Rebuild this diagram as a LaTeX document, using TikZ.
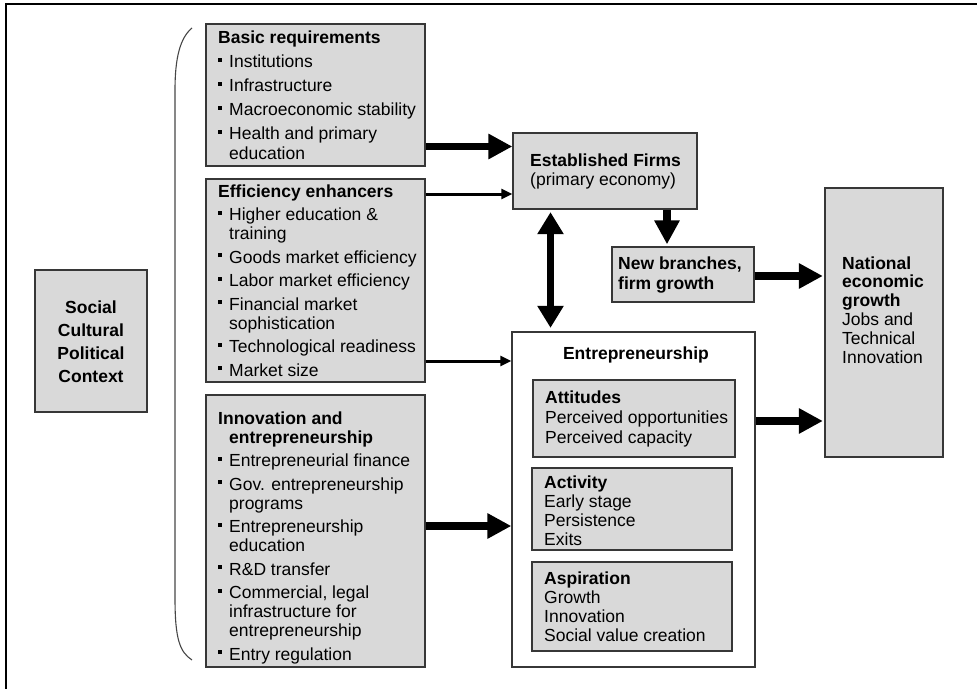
\documentclass[tikz,border=0pt]{standalone}
\usepackage{fontspec}
\setmainfont{Liberation Sans}
\usetikzlibrary{arrows.meta}

\definecolor{boxgray}{RGB}{217,217,217}
\definecolor{edgegray}{RGB}{55,55,55}
\definecolor{bracegray}{RGB}{70,70,70}

% body font used by every label
\newcommand\dfont{\fontsize{17.5bp}{19bp}\selectfont}
% top-aligned text block: [baselineskip]{width}{content}
\newcommand\tblock[3][19bp]{\vtop{\hsize=#2\raggedright\parindent=0pt\parskip=0pt%
  \baselineskip=#1\lineskiplimit=-100bp\lineskip=0pt #3}}
% bulleted entry with hanging indent
\newcommand\bitem[1]{\par\vskip4.5bp\hangindent=11bp\hangafter=1\noindent
  \makebox[11bp][l]{\raisebox{6bp}{\rule{3.6bp}{3.6bp}}}#1\par}

\begin{document}
\begin{tikzpicture}[x=1bp, y=-1bp,
  box/.style={rectangle, draw=edgegray, line width=1.3bp, fill=boxgray, inner sep=0},
  whitebox/.style={box, fill=white},
  txt/.style={anchor=base west, inner sep=0, font=\dfont},
  thickarrow/.style={line width=7.5bp, -{Triangle[length=24bp,width=24bp]}},
  twowayarrow/.style={line width=7bp, {Triangle[length=22bp,width=25bp]}-{Triangle[length=22bp,width=25bp]}},
  thinarrow/.style={line width=3bp, -{Triangle[length=11bp,width=10bp]}},
  bracket/.style={draw=bracegray, line width=1.1bp}]

\useasboundingbox (0,0) rectangle (977,689);

% outer frame (only its top and left edges fall on the page)
\draw[line width=2bp] (5.5,689) -- (5.5,4.3) -- (977,4.3);

% boxes
\node[box, minimum width=112bp, minimum height=142bp] (social) at (91,341) {};
\node[box, minimum width=219bp, minimum height=142bp] (basic) at (315.5,95) {};
\node[box, minimum width=219bp, minimum height=203bp] (eff) at (315.5,280.5) {};
\node[box, minimum width=219bp, minimum height=272bp] (innov) at (315.5,531) {};
\node[box, minimum width=184bp, minimum height=76bp] (est) at (605,171) {};
\node[box, minimum width=142bp, minimum height=55bp] (newb) at (683,274.5) {};
\node[box, minimum width=118bp, minimum height=269bp] (natl) at (884,322.5) {};
\node[whitebox, minimum width=243bp, minimum height=335bp] (entr) at (633.5,499.5) {};
\node[box, minimum width=202bp, minimum height=77bp] (att) at (634,418.5) {};
\node[box, minimum width=200bp, minimum height=82bp] (act) at (632,509) {};
\node[box, minimum width=200bp, minimum height=89bp] (asp) at (632,606.5) {};

% curly bracket grouping the three pillar boxes
\draw[bracket] (192,28) .. controls (180,38) and (175,58) .. (175,90)
  -- (175,598) .. controls (175,640) and (180,652) .. (192,660);

% labels
\node[txt, anchor=base, font=\dfont\bfseries] (socialtext) at (91,313)
  {\tblock[23.3bp]{112bp}{\centering Social\\Cultural\\Political\\Context}};

\node[txt] (basictext) at (218,44) {\tblock[19.5bp]{205bp}{%
  {\bfseries Basic requirements}%
  \bitem{Institutions}%
  \bitem{Infrastructure}%
  \bitem{Macroeconomic stability}%
  \bitem{Health and primary\newline education}}};

\node[txt] (efftext) at (218,197) {\tblock{205bp}{%
  {\bfseries Efficiency enhancers}%
  \bitem{Higher education \&\newline training}%
  \bitem{Goods market efficiency}%
  \bitem{Labor market efficiency}%
  \bitem{Financial market\newline sophistication}%
  \bitem{Technological readiness}%
  \bitem{Market size}}};

\node[txt] (innovtext) at (218,424) {\tblock{205bp}{%
  \noindent{\bfseries Innovation and}\par
  \noindent\hbox to 11bp{}{\bfseries entrepreneurship}%
  \bitem{Entrepreneurial finance}%
  \bitem{Gov. entrepreneurship\newline programs}%
  \bitem{Entrepreneurship\newline education}%
  \bitem{R\&D transfer}%
  \bitem{Commercial, legal\newline infrastructure for\newline entrepreneurship}%
  \bitem{Entry regulation}}};

\node[txt] (esttext) at (530,167) {\tblock{170bp}{%
  {\bfseries Established Firms}\newline (primary economy)}};

\node[txt, font=\dfont\bfseries] (newbtext) at (618,269) {\tblock[20bp]{135bp}{%
  New branches,\newline firm growth}};

\node[txt] (natltext) at (842,269) {\tblock[18.8bp]{100bp}{%
  {\bfseries National\newline economic\newline growth}\newline
  Jobs and\newline Technical\newline Innovation}};

\node[txt, anchor=base, font=\dfont\bfseries] (entrtext) at (636,359) {Entrepreneurship};

\node[txt] (atttext) at (545,403) {\tblock[20bp]{190bp}{%
  {\bfseries Attitudes}\newline Perceived opportunities\newline Perceived capacity}};

\node[txt] (acttext) at (544,488) {\tblock[19.3bp]{185bp}{%
  {\bfseries Activity}\newline Early stage\newline Persistence\newline Exits}};

\node[txt] (asptext) at (544,584) {\tblock[19.3bp]{185bp}{%
  {\bfseries Aspiration}\newline Growth\newline Innovation\newline Social value creation}};

% connectors
\draw[thickarrow] (basic.east |- 0,146.5) -- (est.west |- 0,146.5);
\draw[thinarrow] (eff.east |- 0,194) -- (est.west |- 0,194);
\draw[thinarrow] (eff.east |- 0,361) -- (entr.west |- 0,361);
\draw[thickarrow] (innov.east |- 0,526) -- (entr.west |- 0,526);
\draw[twowayarrow, shorten <=2.5bp, shorten >=3.5bp] (est.south -| 550.5,0) -- (entr.north -| 550.5,0);
\draw[thickarrow, shorten >=2bp] (est.south -| 667,0) -- (newb.north -| 667,0);
\draw[thickarrow, shorten >=1.5bp] (newb.east |- 0,276) -- (natl.west |- 0,276);
\draw[thickarrow, shorten >=1.5bp] (entr.east |- 0,421) -- (natl.west |- 0,421);

\end{tikzpicture}
\end{document}
